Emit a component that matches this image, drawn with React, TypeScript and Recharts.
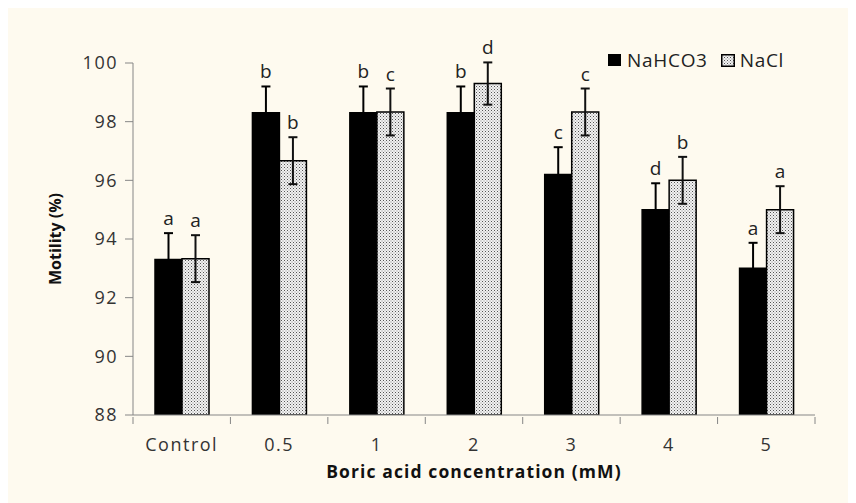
import { BarChart, Bar, XAxis, YAxis, ErrorBar, LabelList } from 'recharts'

const categories = ['Control', '0.5', '1', '2', '3', '4', '5']
const nahco3 = [93.3, 98.3, 98.3, 98.3, 96.2, 95.0, 93.0]
const nahco3Err = [0.9, 0.9, 0.9, 0.9, 0.93, 0.9, 0.87]
const nahco3Letters = ['a', 'b', 'b', 'b', 'c', 'd', 'a']
const nacl = [93.33, 96.67, 98.33, 99.3, 98.33, 96.0, 95.0]
const naclErr = [0.8, 0.8, 0.8, 0.72, 0.8, 0.8, 0.8]
const naclLetters = ['a', 'b', 'c', 'd', 'c', 'b', 'a']
const yTicks = [88, 90, 92, 94, 96, 98, 100]

const data = categories.map((c, i) => ({
  name: c,
  nahco3: nahco3[i],
  nahco3Err: nahco3Err[i],
  nacl: nacl[i],
  naclErr: naclErr[i],
}))

const W = 848
const H = 498
const M = { top: 58, right: 41, left: 60, bottom: 50 }
const Y_W = 65
const X_H = 38
const PLOT_W = W - M.left - Y_W - M.right
const PLOT_H = H - M.top - M.bottom - X_H
const PPU = PLOT_H / (yTicks[yTicks.length - 1] - yTicks[0])

const font = '"Open Sans", sans-serif'
const axisGray = '#868686'

function letterLabel(letters: string[], errs: number[]) {
  return (props: any) => {
    const { x, y, width, index } = props
    const top = y - errs[index] * PPU
    return (
      <text x={x + width / 2} y={top - 8} textAnchor="middle" fontSize={19} fontFamily={font} fill="#222">
        {letters[index]}
      </text>
    )
  }
}

function XTick(props: any) {
  const { x, y, payload, index } = props
  const half = PLOT_W / categories.length / 2
  return (
    <g>
      <line x1={x - half} y1={y} x2={x - half} y2={y + 7} stroke={axisGray} />
      {index === categories.length - 1 && <line x1={x + half} y1={y} x2={x + half} y2={y + 7} stroke={axisGray} />}
      <text x={x} y={y + 34} textAnchor="middle" fontSize={18} letterSpacing={1.5} fontFamily={font} fill="#333">
        {payload.value}
      </text>
    </g>
  )
}

function LegendBox() {
  return (
    <div style={{ position: 'absolute', left: 600, top: 43, display: 'flex', alignItems: 'center', fontFamily: font, fontSize: 19, letterSpacing: 0.7, color: '#222', lineHeight: '24px' }}>
      <span style={{ width: 13, height: 12, background: '#000', marginRight: 6, display: 'inline-block' }} />
      <span style={{ marginRight: 13 }}>NaHCO3</span>
      <svg width={14} height={13} style={{ marginRight: 5 }}>
        <rect x={0.75} y={0.75} width={12.5} height={11.5} fill="url(#dots)" stroke="#000" strokeWidth={1.5} />
      </svg>
      <span>NaCl</span>
    </div>
  )
}

export default function App() {
  return (
    <div style={{ position: 'relative', width: W, height: H, marginTop: -3, background: '#FEFAEF' }}>
      <BarChart width={W} height={H} data={data} margin={M} barGap={0} barSize={27}>
        <defs>
          <pattern id="dots" width={3} height={3} patternUnits="userSpaceOnUse">
            <rect width={3} height={3} fill="#f2f2f2" />
            <rect x={0} y={0} width={1} height={1} fill="#555" />
            <rect x={1.5} y={1.5} width={1} height={1} fill="#888" />
          </pattern>
        </defs>
        <XAxis
          dataKey="name"
          height={X_H}
          stroke={axisGray}
          tickLine={false}
          tickSize={0}
          tick={<XTick />}
          interval={0}
          label={{ value: 'Boric acid concentration (mM)', position: 'bottom', offset: 13, style: { fontFamily: font, fontSize: 17.5, letterSpacing: 1.1, fontWeight: 700, fill: '#111' } }}
        />
        <YAxis
          width={Y_W}
          domain={[88, 100]}
          ticks={yTicks}
          allowDataOverflow
          stroke={axisGray}
          tickSize={8}
          tickMargin={7}
          tick={{ fontFamily: font, fontSize: 18, letterSpacing: 1.5, fill: '#333' }}
          label={{ value: 'Motility (%)', angle: -90, position: 'insideLeft', offset: -13, style: { textAnchor: 'middle', fontFamily: font, fontSize: 16, fontWeight: 700, fill: '#111' } }}
        />
        <Bar dataKey="nahco3" name="NaHCO3" fill="#000" stroke="#000" strokeWidth={1.5} isAnimationActive={false}>
          <ErrorBar dataKey="nahco3Err" width={4.5} stroke="#000" strokeWidth={2} direction="y" />
          <LabelList dataKey="nahco3" content={letterLabel(nahco3Letters, nahco3Err)} />
        </Bar>
        <Bar dataKey="nacl" name="NaCl" fill="url(#dots)" stroke="#000" strokeWidth={1.5} isAnimationActive={false}>
          <ErrorBar dataKey="naclErr" width={4.5} stroke="#111" strokeWidth={2} direction="y" />
          <LabelList dataKey="nacl" content={letterLabel(naclLetters, naclErr)} />
        </Bar>
      </BarChart>
      <LegendBox />
    </div>
  )
}
